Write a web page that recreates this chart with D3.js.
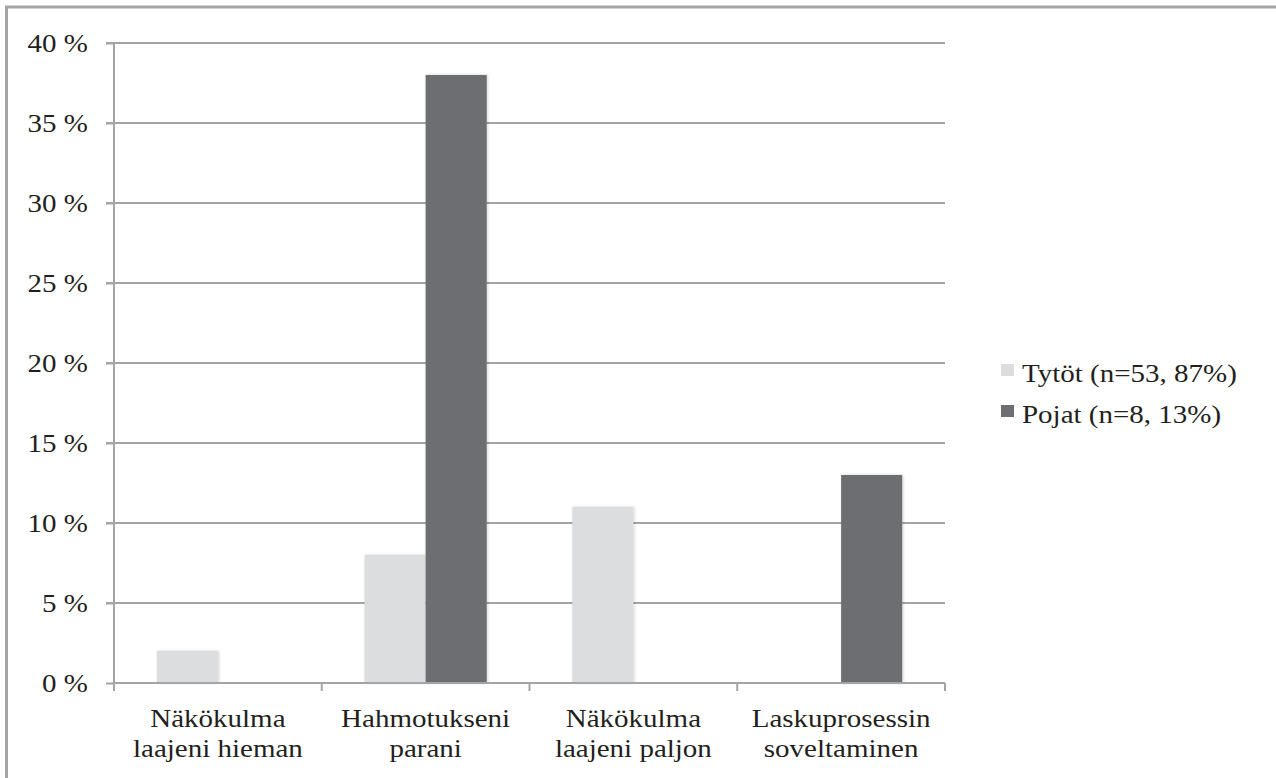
<!DOCTYPE html>
<html>
<head>
<meta charset="utf-8">
<script src="https://cdn.jsdelivr.net/npm/d3@7"></script>
<style>
  html, body { margin: 0; padding: 0; background: #fff; }
  svg { display: block; }
</style>
</head>
<body>
<svg id="chart" width="1276" height="778"></svg>
<script>
// Categories (two-line labels) and series values in percent
const categories = [
  ["Näkökulma", "laajeni hieman"],
  ["Hahmotukseni", "parani"],
  ["Näkökulma", "laajeni paljon"],
  ["Laskuprosessin", "soveltaminen"]
];
const seriesNames = ["Tytöt (n=53, 87%)", "Pojat (n=8, 13%)"];
const tytot = [2, 8, 11, 0];
const pojat = [0, 38, 0, 13];
const yTicks = [0, 5, 10, 15, 20, 25, 30, 35, 40];
const colors = ["#dcdddf", "#6d6e71"];

const FONT = "'Liberation Serif', 'Times New Roman', Times, serif";
const svg = d3.select("#chart");
const W = 1276, H = 778;
const margin = { left: 114, right: 945, top: 43, bottom: 683 };
const STRETCH = 1.16;   // the typeface is set slightly wide
const FS = 25;

const styleText = sel => sel
  .style("font-family", FONT)
  .style("font-size", FS + "px")
  .style("fill", "#231f20");

// outer frame (top and left edges)
svg.append("path")
  .attr("d", `M6.5,${H} V7 H${W}`)
  .attr("fill", "none")
  .attr("stroke", "#a3a4a6")
  .attr("stroke-width", 3);

const defs = svg.append("defs");
const f = defs.append("filter").attr("id", "soft")
  .attr("x", "-20%").attr("y", "-20%").attr("width", "140%").attr("height", "140%");
f.append("feDropShadow").attr("dx", 1).attr("dy", 0)
  .attr("stdDeviation", 1.5).attr("flood-color", "#000").attr("flood-opacity", 0.18);

const catKeys = categories.map((c, i) => i);
const x0 = d3.scaleBand().domain(catKeys).range([margin.left, margin.right]).padding(0);
const groupW = x0.bandwidth() * 0.588;
const x1 = d3.scaleBand().domain([0, 1])
  .range([(x0.bandwidth() - groupW) / 2, (x0.bandwidth() + groupW) / 2]).padding(0);
const y = d3.scaleLinear().domain([0, 40]).range([margin.bottom, margin.top]);

// gridlines
const grid = svg.append("g").attr("class", "grid");
grid.selectAll("line").data(yTicks.filter(t => t > 0)).join("line")
  .attr("x1", margin.left - 8).attr("x2", margin.right)
  .attr("y1", d => y(d)).attr("y2", d => y(d))
  .attr("stroke", "#a3a4a6").attr("stroke-width", 2);

// y axis
const yAxis = svg.append("g")
  .attr("transform", `translate(${margin.left},0)`)
  .call(d3.axisLeft(y).tickValues(yTicks).tickSize(8).tickFormat(d => d + " %"));
yAxis.attr("font-family", null).attr("font-size", null);
yAxis.select(".domain").attr("stroke", "#a3a4a6").attr("stroke-width", 2)
  .attr("d", `M0,${margin.top}V${margin.bottom}`);
yAxis.selectAll(".tick line").attr("stroke", "#a3a4a6").attr("stroke-width", 2);
yAxis.selectAll(".tick text").each(function () {
  const t = d3.select(this);
  t.attr("x", null).attr("dy", null).attr("fill", null)
    .attr("text-anchor", "end")
    .attr("transform", `translate(-26,8) scale(${STRETCH},1)`);
  styleText(t);
});

// bars
const series = [tytot, pojat];
const barG = svg.append("g");
categories.forEach((c, i) => {
  series.forEach((vals, s) => {
    if (vals[i] <= 0) return;
    barG.append("rect")
      .attr("x", x0(i) + x1(s))
      .attr("width", x1.bandwidth())
      .attr("y", y(vals[i]))
      .attr("height", y(0) - y(vals[i]))
      .attr("fill", colors[s])
      .attr("filter", "url(#soft)");
  });
});

// x axis with boundary ticks
const xAx = svg.append("g");
xAx.append("line")
  .attr("x1", margin.left).attr("x2", margin.right)
  .attr("y1", y(0)).attr("y2", y(0))
  .attr("stroke", "#a3a4a6").attr("stroke-width", 2);
const bounds = catKeys.map(k => x0(k)).concat([margin.right]);
xAx.selectAll("line.tk").data(bounds).join("line").attr("class", "tk")
  .attr("x1", d => d).attr("x2", d => d)
  .attr("y1", y(0)).attr("y2", y(0) + 8)
  .attr("stroke", "#a3a4a6").attr("stroke-width", 2);

// category labels
categories.forEach((lines, i) => {
  const cx = x0(i) + x0.bandwidth() / 2;
  lines.forEach((ln, j) => {
    svg.append("text")
      .attr("text-anchor", "middle")
      .attr("transform", `translate(${cx},${727 + j * 30}) scale(${STRETCH},1)`)
      .text(ln)
      .call(styleText);
  });
});

// legend
const leg = svg.append("g");
seriesNames.forEach((name, s) => {
  const ly = 382 + s * 41;
  leg.append("rect")
    .attr("x", 1001).attr("y", ly - 18)
    .attr("width", 13).attr("height", 12)
    .attr("fill", colors[s]);
  leg.append("text")
    .attr("transform", `translate(1022,${ly}) scale(${STRETCH},1)`)
    .text(name)
    .call(styleText);
});
</script>
</body>
</html>
